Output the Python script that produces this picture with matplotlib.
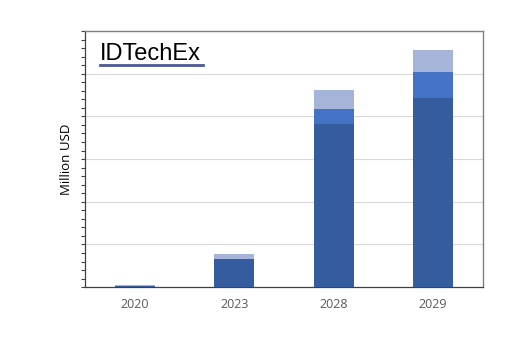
import matplotlib.pyplot as plt
import numpy as np

# dados (Million USD, escala relativa)
anos = ['2020', '2023', '2028', '2029']
serie_a = [3, 67, 382, 443]      # azul escuro
serie_b = [0, 0, 36, 60]         # azul medio
serie_c = [2, 10, 43, 52]        # azul claro (topo)

fig = plt.figure(figsize=(5.12, 3.37), dpi=100)
ax = fig.add_axes([0.166, 0.148, 0.777, 0.760])

x = np.arange(len(anos))
largura = 0.4
ax.bar(x, serie_a, largura, color='#355C9F', zorder=3)
ax.bar(x, serie_b, largura, bottom=serie_a, color='#4472C4', zorder=3)
topo = np.array(serie_a) + np.array(serie_b)
ax.bar(x, serie_c, largura, bottom=topo, color='#A7B4DA', zorder=3)

ax.set_xlim(-0.5, 3.5)
ax.set_ylim(0, 600)
ax.set_xticks(x)
ax.set_xticklabels(anos, fontsize=9, color='#595959', family='Open Sans')
ax.tick_params(axis='x', length=0, pad=8)
ax.set_yticks(np.arange(0, 601, 100))
ax.set_yticks(np.arange(0, 601, 20), minor=True)
ax.set_yticklabels([])
ax.tick_params(axis='y', which='both', length=3, direction='out', color='#404040', width=0.8)
ax.grid(axis='y', color='#D9D9D9', linewidth=0.8, zorder=0)

for lado in ['left', 'bottom']:
    ax.spines[lado].set_color('#404040')
    ax.spines[lado].set_linewidth(0.9)
for lado in ['top', 'right']:
    ax.spines[lado].set_color('#808080')
    ax.spines[lado].set_linewidth(1.0)

ax.set_ylabel('Million USD', fontsize=9.5, family='Open Sans', labelpad=2)

# logo
fig.text(100 / 512, 1 - 60 / 337, 'IDTechEx', fontsize=17, family='Liberation Sans',
         color='#000000', ha='left', va='baseline')
fig.add_artist(plt.Line2D([100 / 512, 203 / 512], [1 - 64.5 / 337, 1 - 64.5 / 337],
                          color='#4A5A95', linewidth=2))

fig.savefig('out.png', dpi=100)
